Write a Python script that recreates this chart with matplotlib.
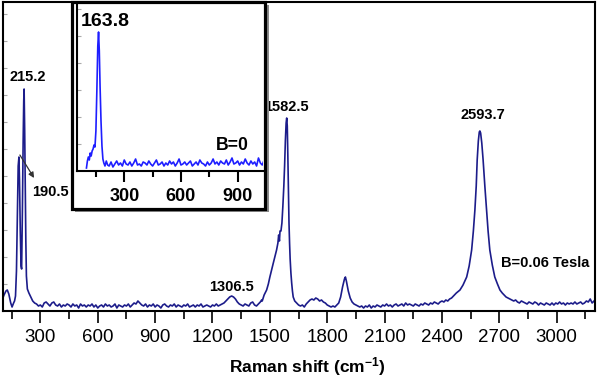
import numpy as np
import matplotlib
matplotlib.use("Agg")
import matplotlib.pyplot as plt
from matplotlib.patches import Rectangle

plt.rcParams['font.family'] = ['Liberation Sans', 'DejaVu Sans']
plt.rcParams['mathtext.fontset'] = 'custom'
plt.rcParams['mathtext.rm'] = 'Liberation Sans:bold'
plt.rcParams['mathtext.bf'] = 'Liberation Sans:bold'
plt.rcParams['mathtext.it'] = 'Liberation Sans:bold'

# ---------------- Main spectrum (B = 0.06 Tesla) ----------------
low_shift = [100, 110, 120, 127, 135, 145, 152, 160, 165, 170, 175, 180, 184, 188,
             191, 195, 199, 202, 206, 210, 213, 215, 218, 221, 224, 227, 232, 240]
low_int = [11, 16, 20, 21, 17, 8, 4, 8, 10, 15, 40, 100, 145, 154,
           130, 80, 45, 42, 100, 170, 210, 222, 180, 120, 70, 35, 22, 18]

base1_start = 250  # step 10
base1_int = [14, 10, 8, 7, 5, 6, 4, 8, 9, 7, 5, 8, 9, 6, 5, 7, 4, 6, 5, 7, 6,
             4, 7, 5, 6, 3, 7, 5, 6, 4, 6, 5, 7, 4, 6, 3, 5, 6, 4, 7, 5, 6, 4, 5, 7,
             3, 6, 5, 4, 6, 5, 7, 4, 6, 8, 7,
             10, 8, 6, 5, 7, 4, 6, 5, 7, 4, 6, 5, 3, 6, 7, 5, 4, 6, 5, 7, 4, 6, 5,
             4, 6, 5, 7, 4, 5, 6, 4, 6, 5, 7, 4, 5, 6, 5, 4, 6, 5, 7, 5, 6, 7,
             8, 10, 12, 14, 15, 14, 12, 9, 7, 6, 5, 7, 6, 5, 8, 9, 6, 5, 7, 9, 10]

g_shift = [1457, 1470, 1483, 1492, 1500, 1510, 1518, 1527, 1535, 1542, 1546, 1550,
           1553, 1558, 1563, 1568, 1573, 1577, 1581, 1585, 1588, 1591, 1594, 1597,
           1600, 1603, 1606, 1610, 1614, 1618, 1622, 1630, 1640]
g_int = [11, 16, 21, 27, 34, 42, 48, 55, 61, 68, 76, 70,
         80, 80, 88, 105, 125, 145, 170, 188, 193, 185, 155, 118,
         88, 68, 52, 38, 28, 20, 14, 10, 8]

base2_start = 1650  # step 10
base2_int = [6, 5, 6, 4, 7, 9, 11, 12, 11, 13, 12, 10, 11, 9, 8, 6, 5, 4, 5, 4, 6, 8]

d2_shift = [1870, 1880, 1890, 1895, 1900, 1910, 1920, 1930]
d2_int = [14, 24, 32, 34, 30, 20, 13, 9]

base3_start = 1940  # step 10
base3_int = [7, 6, 5, 4, 5, 3, 5, 4, 6, 3, 5, 4, 6, 5, 4, 6, 5, 7, 5, 6, 4, 6, 7, 5,
             6, 7, 5, 8, 6, 7, 6, 5, 7, 6, 5, 7, 6, 8, 7, 6, 8, 7, 9, 8, 7, 9, 10,
             9, 11, 10, 12]

g2_shift = [2450, 2460, 2475, 2494, 2510, 2529, 2542, 2555, 2564, 2572, 2579, 2584,
            2590, 2595, 2598, 2602, 2608, 2615, 2624, 2633, 2641, 2650, 2663, 2676,
            2690, 2703, 2715]
g2_int = [13, 15, 18, 21, 26, 34, 45, 61, 80, 101, 125, 151,
          170, 179, 180, 178, 168, 151, 125, 101, 80, 61, 46, 34,
          27, 21, 18]

base4_start = 2725  # step 10
base4_int = [16, 14, 13, 12, 11, 10, 11, 9, 8, 10, 9, 8, 7, 9, 8, 7, 9, 8, 6, 8, 7, 6,
             8, 7, 6, 8, 6, 8, 7, 9, 7, 8, 6, 8, 7, 8, 7, 9, 7, 8, 9, 7, 8, 10, 9, 12,
             8, 10]

# ---------------- Inset spectrum (B = 0) ----------------
in_peak_shift = [100, 105, 110, 115, 120, 125, 130, 135, 140, 145, 150, 155, 160, 164,
                 168, 172, 177, 182, 187, 192, 198, 205, 212]
in_peak_int = [3, 10, 14, 11, 18, 15, 20, 22, 26, 24, 40, 80, 125, 139,
               120, 85, 50, 25, 12, 8, 5, 10, 6]
in_base_start = 220  # step 10
in_base_int = [5, 9, 4, 7, 10, 6, 8, 5, 11, 7, 6, 9, 5, 8, 12, 6, 7, 5, 9, 8, 6, 10, 7, 5,
               8, 11, 6, 7, 9, 5, 8, 6, 10, 7, 9, 5, 8, 12, 6, 7, 9, 6, 8, 10, 5, 7, 9,
               6, 11, 8, 7, 5, 9, 6, 8, 12, 7, 9, 6, 10, 8, 7, 11, 6, 9, 13, 7, 8, 10,
               6, 9, 7, 12, 8, 6, 10, 7, 9, 5, 13, 8, 6, 11]

main_ticks = [300, 600, 900, 1200, 1500, 1800, 2100, 2400, 2700, 3000]
inset_ticks = [300, 600, 900]


def seg(start, vals, step=10):
    return list(start + step * np.arange(len(vals))), list(vals)


parts = [(low_shift, low_int), seg(base1_start, base1_int), (g_shift, g_int),
         seg(base2_start, base2_int), (d2_shift, d2_int), seg(base3_start, base3_int),
         (g2_shift, g2_int), seg(base4_start, base4_int)]
mx = np.concatenate([np.asarray(p[0], float) for p in parts])
my = np.concatenate([np.asarray(p[1], float) for p in parts])
o = np.argsort(mx, kind='stable')
mx, my = mx[o], my[o]

ib = seg(in_base_start, in_base_int)
ix_ = np.array(in_peak_shift + ib[0], float)
iy_ = np.array(in_peak_int + ib[1], float)

W, H = 600, 380
fig = plt.figure(figsize=(6, 3.8), dpi=100)

ax = fig.add_axes([2.5 / W, 69 / H, 592.5 / W, 309.5 / H])
ax.plot(mx, my, color='#1c1c8a', lw=1.2)
ax.set_xlim(102, 3200)
ax.set_ylim(0, 309.5)
ax.set_xticks(main_ticks)
ax.set_xticks(np.arange(150, 3200, 300), minor=True)
ax.set_xticklabels([str(t) for t in main_ticks])
ax.tick_params(axis='x', which='major', direction='out', length=8.6, width=1.2,
               labelsize=13.5, pad=4.5)
ax.tick_params(axis='x', which='minor', direction='out', length=5.8, width=1.2)
ax.set_yticks(np.arange(27, 309, 27))
ax.set_yticklabels([])
ax.tick_params(axis='y', direction='in', length=3, width=0.8, color='#aaaaaa')
for s in ax.spines.values():
    s.set_linewidth(1.5)

lab = dict(fontsize=10.5, fontweight='bold', ha='center', va='center')
ax.text(235, 234, '215.2', **lab)
ax.text(355, 119, '190.5', **lab)
ax.annotate('', xy=(267, 133), xytext=(193, 156),
            arrowprops=dict(arrowstyle='-|>', color='#333333', lw=0.9,
                            mutation_scale=8, shrinkA=0, shrinkB=0))
ax.text(1589, 204, '1582.5', **lab)
ax.text(2614, 196, '2593.7', **lab)
ax.text(1297, 24, '1306.5', **lab)
ax.text(2938, 48, 'B=0.06 Tesla', **lab)

fig.text(307 / W, 1 - 367 / H, 'Raman shift (cm$^{-1}$)', ha='center', va='center',
         fontsize=12.5, fontweight='bold')

# inset frame with shadow
x0, x1, yt, yb = 71.5, 265, 2, 208.5
shadow = Rectangle(((x0 + 3.5) / W, 1 - (yb + 3.5) / H), (x1 - x0) / W, (yb - yt) / H,
                   transform=fig.transFigure, facecolor='#8a8a8a', edgecolor='none',
                   zorder=2)
frame = Rectangle((x0 / W, 1 - yb / H), (x1 - x0) / W, (yb - yt) / H,
                  transform=fig.transFigure, facecolor='white', edgecolor='black',
                  lw=2.3, zorder=3)
fig.add_artist(shadow)
fig.add_artist(frame)

ia = fig.add_axes([77 / W, 1 - 171 / H, 186 / W, 166 / H], zorder=4)
ia.patch.set_alpha(0)
ia.plot(ix_, iy_, color='#1e1eff', lw=1.2)
ia.set_xlim(50, 1034)
ia.set_ylim(0, 166)
ia.spines['top'].set_visible(False)
ia.spines['right'].set_visible(False)
ia.spines['left'].set_linewidth(1.5)
ia.spines['bottom'].set_linewidth(1.5)
ia.set_xticks(inset_ticks)
ia.set_xticks([150, 450, 750], minor=True)
ia.set_xticklabels([str(t) for t in inset_ticks], fontweight='bold')
ia.tick_params(axis='x', which='major', direction='out', length=8, width=1.5,
               labelsize=13, pad=4)
ia.tick_params(axis='x', which='minor', direction='out', length=4.5, width=1.5)
ia.set_yticks(np.arange(27, 166, 27))
ia.set_yticklabels([])
ia.tick_params(axis='y', direction='in', length=3, width=0.8, color='#aaaaaa')
ia.text(198, 150, '163.8', fontsize=14, fontweight='bold', ha='center', va='center')
ia.text(870, 25, 'B=0', fontsize=12.7, fontweight='bold', ha='center', va='center')

fig.savefig('out.png', dpi=100)
